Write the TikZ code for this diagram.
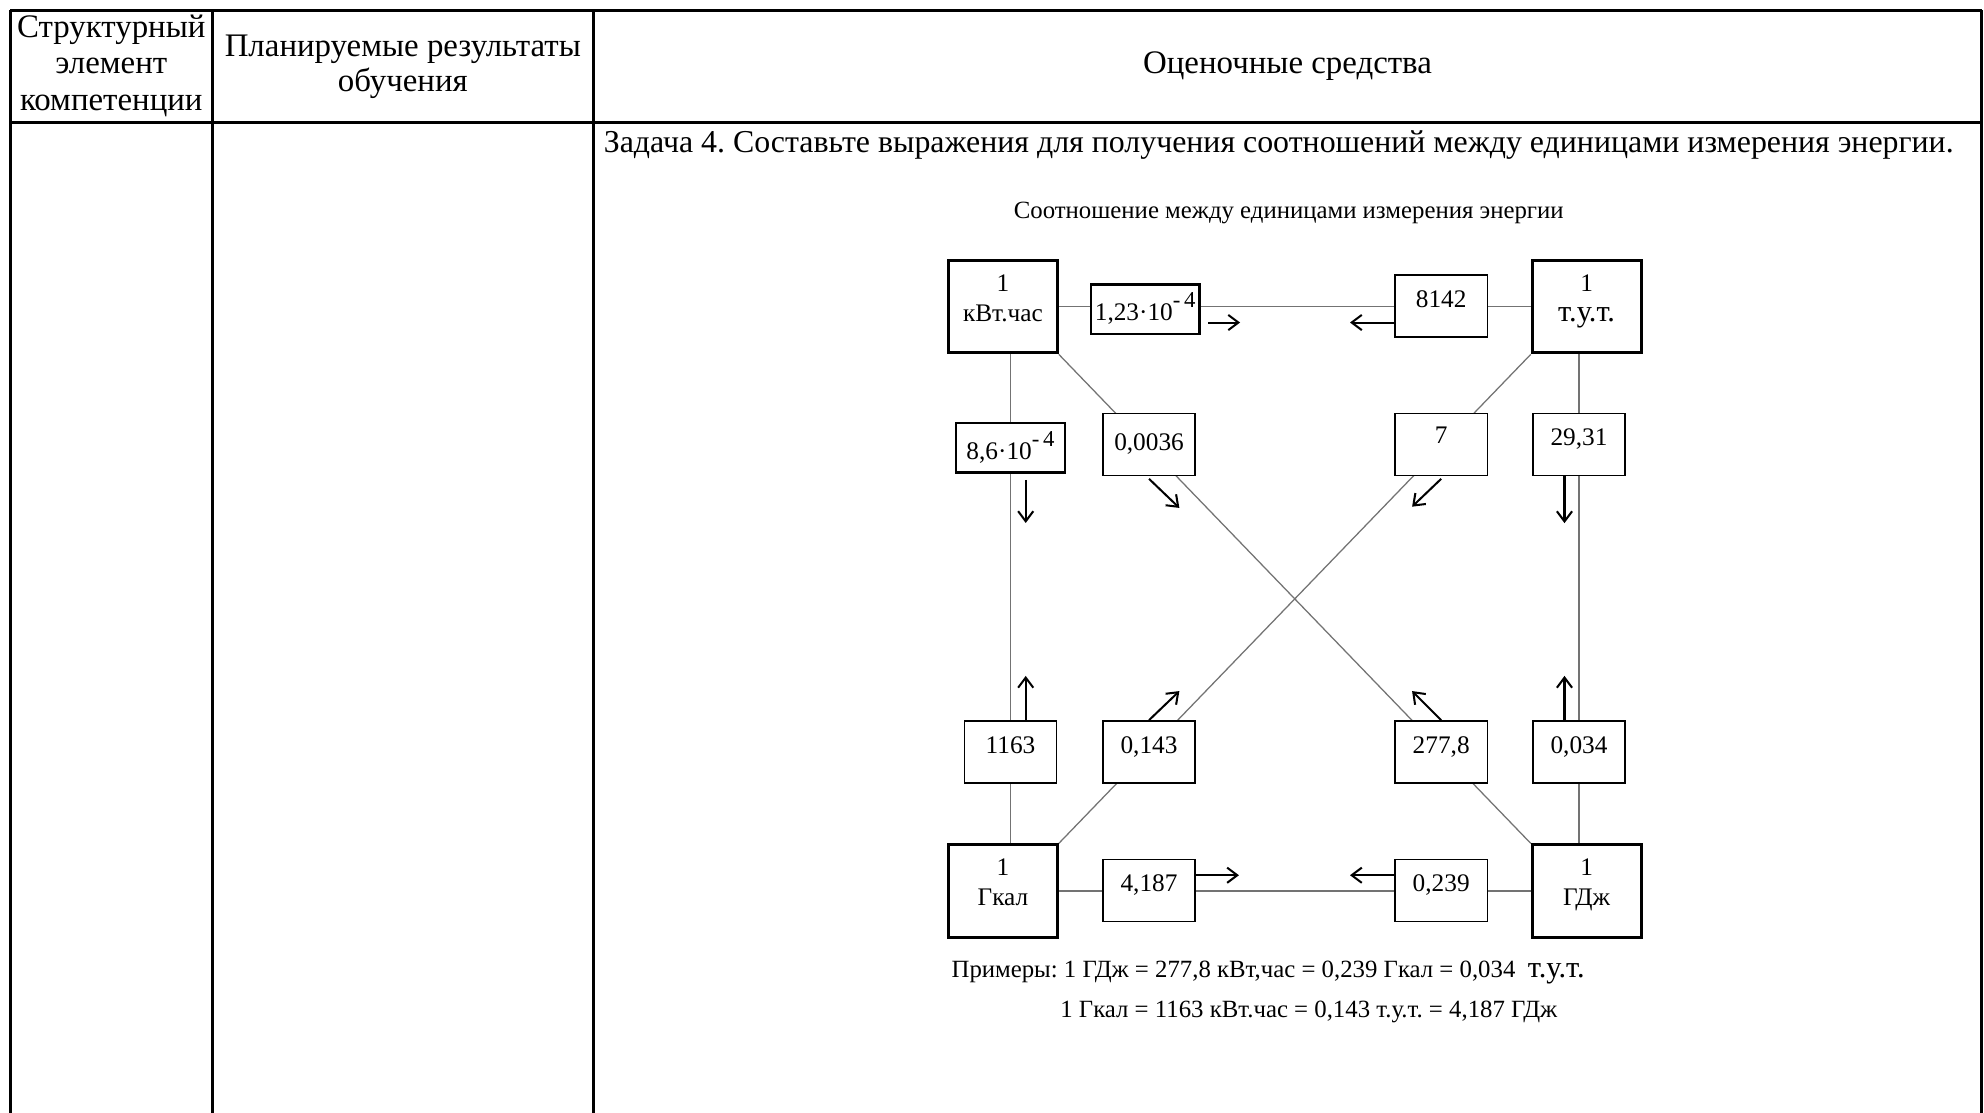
\documentclass[tikz,border=0pt]{standalone}
\usepackage{fontspec}
\setmainfont{Liberation Serif}
\usetikzlibrary{arrows.meta}
\usetikzlibrary{backgrounds}
\frenchspacing
\newcommand{\tenpow}[2]{#1·10\raisebox{1.1ex}{\fontsize{9}{9}\selectfont -\,#2}}

\begin{document}
\begin{tikzpicture}[x=0.5pt,y=-0.5pt]
        \tikzset{bigbox/.style = {shape=rectangle,draw,line width=1.2pt,fill=white,minimum width=43pt,minimum height=36.5pt,inner sep=0pt,align=center,text depth=7pt,font=\fontsize{10}{12}\selectfont}}
        \tikzset{numbox/.style = {shape=rectangle,draw,line width=0.6pt,fill=white,minimum width=36.5pt,minimum height=24.5pt,inner sep=0pt,text depth=5.5pt,font=\fontsize{10}{12}\selectfont}}
        \tikzset{expbox/.style = {numbox,line width=1pt,minimum width=43pt,minimum height=19.5pt,text depth=2pt}}
        \tikzset{link/.style = {draw=black!55,line width=0.5pt}}
        \tikzset{arr/.style = {line width=0.8pt,-{Straight Barb[length=4pt,width=6pt]}}}
        \tikzset{grid/.style = {line width=1.2pt}}
        \useasboundingbox (0,0) rectangle (1568.7,880);
        % table
        \draw[grid] (8,8) -- (1567,8);
        \draw[grid] (8,97) -- (1567,97);
        \draw[grid] (8,8) -- (8,880);
        \draw[grid] (168,8) -- (168,880);
        \draw[grid] (469,8) -- (469,880);
        \draw[grid] (1567,8) -- (1567,880);
        \node[align=center,font=\fontsize{13}{14.5}\selectfont] (colA) at (88,52) {Структурный\\элемент\\компетенции};
        \node[align=center,font=\fontsize{13}{14}\selectfont] (colB) at (318.5,53) {Планируемые результаты\\обучения};
        \node[font=\fontsize{13}{14}\selectfont] (colC) at (1018,52) {Оценочные средства};
        \node[anchor=west,inner sep=0pt,font=\fontsize{12.6}{14}\selectfont] (task) at (477,115) {Задача 4. Составьте выражения для получения соотношений между единицами измерения энергии.};
        \node[font=\fontsize{9.8}{11}\selectfont] (title) at (1019,168) {Соотношение между единицами измерения энергии};
        % units
        \node[bigbox] (kwh) at (793,242.5) {1\\кВт.час};
        \node[bigbox] (tut) at (1254.5,242.5) {1\\{\fontsize{12}{13}\selectfont т.у.т.}};
        \node[bigbox] (gcal) at (793,704.5) {1\\Гкал};
        \node[bigbox] (gdj) at (1254.5,704.5) {1\\ГДж};
        % factors
        \node[expbox] (e123) at (905.5,244.5) {\tenpow{1,23}{4}};
        \node[numbox] (n8142) at (1139.5,242) {8142};
        \node[expbox] (e86) at (799,354) {\tenpow{8,6}{4}};
        \node[numbox,text depth=2pt] (n0036) at (908.5,351.5) {0,0036};
        \node[numbox,text depth=7pt] (n7) at (1139.5,351.5) {7};
        \node[numbox] (n2931) at (1248.5,351.5) {29,31};
        \node[numbox] (n1163) at (799,594.5) {1163};
        \node[numbox] (n0143) at (908.5,594.5) {0,143};
        \node[numbox] (n2778) at (1139.5,594.5) {277,8};
        \node[numbox] (n0034) at (1248.5,594.5) {0,034};
        \node[numbox] (n4187) at (908.5,704) {4,187};
        \node[numbox] (n0239) at (1139.5,704) {0,239};
        \begin{scope}[on background layer]
            \draw[link] (kwh.east) -- (tut.west);
            \draw[link] (gcal.east) -- (gdj.west);
            \draw[link] (kwh.south -| e86) -- (e86.north);
            \draw[link] (e86.south) -- (n1163.north);
            \draw[link] (n1163.south) -- (gcal.north -| n1163);
            \draw[link] (tut.south -| n2931) -- (gdj.north -| n0034);
            \draw[link] (kwh.south east) -- (gdj.north west);
            \draw[link] (tut.south west) -- (gcal.north east);
        \end{scope}
        \draw[arr] (e123.east) ++(6,10.5) -- ++(25,0);
        \draw[arr] (n8142.west) ++(0,13) -- ++(-35,0);
        \draw[arr] (e86.south) ++(12,5) -- ++(0,34);
        \draw[arr] (n0036.south) ++(0,2) -- ++(24,23);
        \draw[arr] (n7.south) ++(0,2) -- ++(-23,22);
        \draw[arr] (n2931.south) ++(-11.5,0) -- ++(0,37);
        \draw[arr] (n1163.north) ++(12,0) -- ++(0,-35);
        \draw[arr] (n0143.north) -- ++(24,-23);
        \draw[arr] (n2778.north) -- ++(-23,-23);
        \draw[arr] (n0034.north) ++(-11.5,0) -- ++(0,-35);
        \draw[arr] (n4187.east) ++(0,-12) -- ++(34,0);
        \draw[arr] (n0239.west) ++(0,-12) -- ++(-35,0);
        % examples
        \node[anchor=west,inner sep=0pt,font=\fontsize{9.8}{11}\selectfont] (ex1) at (752,769) {Примеры: 1 ГДж = 277,8 кВт,час = 0,239 Гкал = 0,034\ \ {\fontsize{12}{13}\selectfont т.у.т.}};
        \node[anchor=west,inner sep=0pt,font=\fontsize{9.8}{11}\selectfont] (ex2) at (838,800) {1 Гкал = 1163 кВт.час = 0,143 т.у.т. = 4,187 ГДж};
\end{tikzpicture}
\end{document}
